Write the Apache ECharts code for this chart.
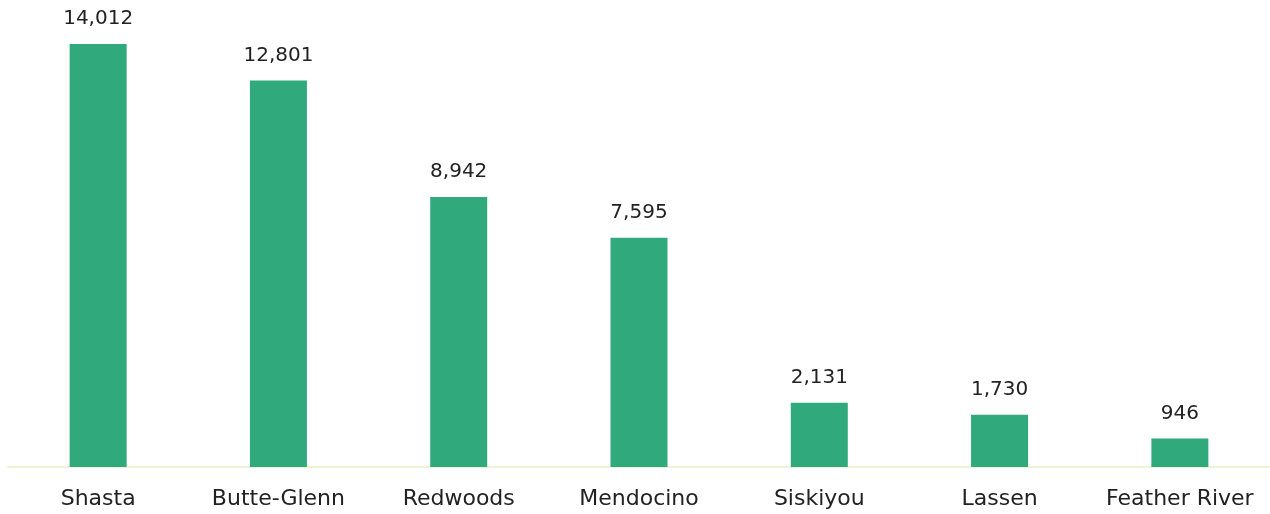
<!DOCTYPE html>
<html>
<head>
<meta charset="utf-8">
<script src="https://cdn.jsdelivr.net/npm/echarts@6/dist/echarts.min.js"></script>
<style>
  html, body { margin: 0; padding: 0; background: #fff; }
  #chart { width: 1270px; height: 514px; }
</style>
</head>
<body>
<div id="chart"></div>
<script>
// regions and their counts
var regions = ['Shasta', 'Butte-Glenn', 'Redwoods', 'Mendocino', 'Siskiyou', 'Lassen', 'Feather River'];
var counts = [14012, 12801, 8942, 7595, 2131, 1730, 946];

var myChart = echarts.init(document.getElementById('chart'));
var option = {
    animation: false,
    grid: { left: 8, right: 0, top: 44, bottom: 47, containLabel: false },
    xAxis: {
        type: 'category',
        data: regions,
        axisLine: { show: true, lineStyle: { color: '#eef3d6', width: 2 } },
        axisTick: { show: false },
        axisLabel: {
            interval: 0,
            color: '#222',
            fontFamily: 'DejaVu Sans',
            fontSize: 22,
            margin: 21
        }
    },
    yAxis: {
        type: 'value',
        min: 0,
        max: 14012,
        show: false,
        splitLine: { show: false }
    },
    series: [{
        type: 'bar',
        data: counts,
        barWidth: 57,
        itemStyle: { color: '#30aa7d' },
        label: {
            show: true,
            position: 'top',
            distance: 15,
            color: '#222',
            fontFamily: 'DejaVu Sans',
            fontSize: 20,
            formatter: function (p) { return p.value.toLocaleString('en-US'); }
        }
    }]
};
myChart.setOption(option);
</script>
</body>
</html>
